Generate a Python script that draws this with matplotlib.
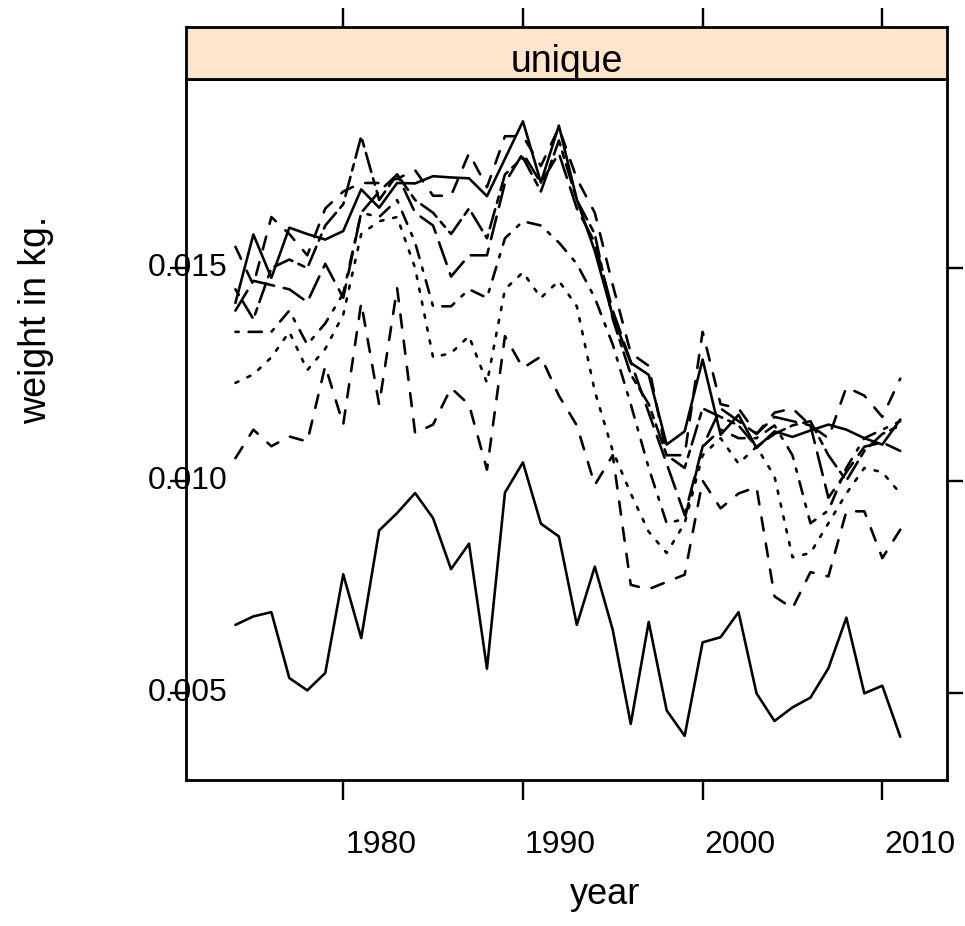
import matplotlib
matplotlib.use("Agg")
import matplotlib.pyplot as plt
from matplotlib.transforms import blended_transform_factory, ScaledTranslation

plt.rcParams["font.family"] = ["Liberation Sans", "DejaVu Sans"]
plt.rcParams["lines.scale_dashes"] = False

# ---- data: mean weight (kg) per year, one series per group ----
years = list(range(1974, 2012))

w1 = [.00661, .00681, .00691, .00536, .00507, .00548, .00780, .00630, .00883, .00924,
      .00971, .00912, .00792, .00852, .00558, .00972, .01043, .00899, .00869, .00661,
      .00798, .00649, .00428, .00668, .00460, .00400, .00620, .00632, .00691, .00500,
      .00435, .00467, .00490, .00559, .00678, .00500, .00518, .00398]
w2 = [.01053, .01120, .01081, .01104, .01092, .01270, .01132, .01418, .01179, .01453,
      .01112, .01132, .01218, .01179, .01026, .01340, .01265, .01292, .01200, .01130,
      .00990, .01060, .00755, .00745, .00762, .00779, .01000, .00935, .00970, .00985,
      .00728, .00700, .00785, .00775, .00928, .00928, .00818, .00885]
w3 = [.0123, .0125, .0129, .0135, .0126, .0131, .0139, .0158, .0161, .0162,
      .0150, .0129, .0130, .0134, .0123, .0145, .0149, .0143, .0147, .0141,
      .0121, .0107, .0097, .0088, .0083, .0090, .0106, .0110, .0104, .0108,
      .0101, .0082, .0083, .0090, .0097, .0103, .0102, .0097]
w4 = [.0135, .0135, .0135, .0140, .0132, .0137, .0144, .0163, .0162, .0166,
      .0156, .0141, .0141, .0145, .0143, .0157, .0161, .0160, .0156, .0151,
      .0143, .0132, .0118, .0103, .0090, .0091, .0108, .0112, .0110, .0110,
      .0113, .0106, .0090, .0093, .0103, .0110, .0112, .0114]
w5 = [.0140, .0147, .0146, .0145, .0142, .0151, .0143, .0163, .0168, .0172,
      .0163, .0160, .0148, .0153, .0153, .0170, .0177, .0170, .0177, .0164,
      .0156, .0140, .0128, .0116, .0104, .0092, .0108, .0117, .0114, .0111,
      .0115, .0114, .0113, .0096, .0102, .0108, .0109, .0107]
w6 = [.0145, .0138, .0150, .0152, .0150, .0160, .0165, .0181, .0166, .0172,
      .0166, .0163, .0158, .0164, .0157, .0172, .0176, .0168, .0180, .0166,
      .0158, .0138, .0125, .0118, .0106, .0103, .0117, .0115, .0113, .0108,
      .0111, .0113, .0114, .0106, .0100, .0107, .0111, .0113]
w7 = [.01418, .01579, .01477, .01595, .01580, .01567, .01587, .01685, .01642, .01700,
      .01699, .01716, .01713, .01711, .01669, .01757, .01845, .01701, .01835, .01661,
      .01540, .01387, .01277, .01249, .01085, .01116, .01285, .01108, .01155, .01077,
      .01116, .01103, .01118, .01132, .01120, .01100, .01085, .01144]
w8 = [.0155, .0146, .0162, .0158, .0153, .0164, .0168, .0170, .0170, .0171,
      .0173, .0167, .0167, .0177, .0169, .0181, .0181, .0174, .0183, .0171,
      .0163, .0146, .0130, .0127, .0106, .0106, .0135, .0118, .0117, .0111,
      .0116, .0117, .0113, .0110, .0122, .0120, .0115, .0124]

series = [w1, w2, w3, w4, w5, w6, w7, w8]

x_ticks = [1980, 1990, 2000, 2010]
y_ticks = [0.005, 0.010, 0.015]
y_tick_labels = ["0.005", "0.010", "0.015"]
strip_label = "unique"
x_label = "year"
y_label = "weight in kg."

# ---- layout (pixels of a 965 x 926 canvas) ----
W, H, DPI = 965, 926, 100
PX = 72.0 / DPI          # points per pixel
L, R, T, B = 186, 947, 79, 780
STRIP_TOP = 27
LW = 2.6 * PX

fig = plt.figure(figsize=(W / DPI, H / DPI), dpi=DPI)
ax = fig.add_axes([L / W, (H - B) / H, (R - L) / W, (B - T) / H])
strip = fig.add_axes([L / W, (H - T) / H, (R - L) / W, (T - STRIP_TOP) / H], sharex=ax)

# R-style line types: solid, dashed, dotted, dotdash, longdash, twodash (recycled)
u = 3.3 * PX
line_types = ["-",
              (0, (4 * u, 4 * u)),
              (0, (1 * u, 3 * u)),
              (0, (1 * u, 3 * u, 4 * u, 3 * u)),
              (0, (7 * u, 3 * u)),
              (0, (2 * u, 2 * u, 6 * u, 2 * u)),
              "-",
              (0, (4 * u, 4 * u))]

for vals, ls in zip(series, line_types):
    ax.plot(years, vals, color="black", lw=LW, linestyle=ls,
            dash_capstyle="round", solid_capstyle="round",
            dash_joinstyle="round", solid_joinstyle="round")

ax.set_xlim(1971.25, 2013.6)
ax.set_ylim(0.002963, 0.019445)

for s in ax.spines.values():
    s.set_linewidth(2.8 * PX)

ax.set_xticks(x_ticks)
ax.set_yticks(y_ticks)
ax.tick_params(axis="x", bottom=True, top=False, direction="out",
               length=20 * PX, width=2.4 * PX, labelbottom=False)
ax.tick_params(axis="y", left=True, right=True, direction="out",
               length=16 * PX, width=2.4 * PX, labelleft=False, labelright=False)

# y tick labels sit centred on the left border
ytrans = blended_transform_factory(ax.transAxes, ax.transData)
for v, lab in zip(y_ticks, y_tick_labels):
    ax.text(0.0026, v, lab, transform=ytrans, ha="center", va="center",
            fontsize=23, color="black")

# x tick labels start at their tick
xtrans = blended_transform_factory(ax.transData, ax.transAxes) + \
    ScaledTranslation(2 / DPI, 0, fig.dpi_scale_trans)
for t in x_ticks:
    ax.text(t, (B - 845) / (B - T), str(t), transform=xtrans, ha="left",
            va="center", fontsize=23, color="black")

# strip above the panel
strip.set_facecolor("#FFE5CC")
strip.set_ylim(0, 1)
strip.set_yticks([])
strip.tick_params(axis="x", top=True, bottom=False, direction="out",
                  length=19 * PX, width=2.4 * PX, labeltop=False, labelbottom=False)
for s in strip.spines.values():
    s.set_linewidth(2.8 * PX)
strip.text(0.5, (T - 72) / (T - STRIP_TOP), strip_label, transform=strip.transAxes,
           ha="center", va="baseline", fontsize=27)

# axis titles
fig.text((L + R) / 2 / W + 3 / W, 1 - 895 / H, x_label, ha="left", va="center", fontsize=26)
fig.text(36 / W, 1 - 424 / H, y_label, rotation=90, ha="center", va="bottom", fontsize=27)

fig.savefig("out.png", dpi=DPI)
